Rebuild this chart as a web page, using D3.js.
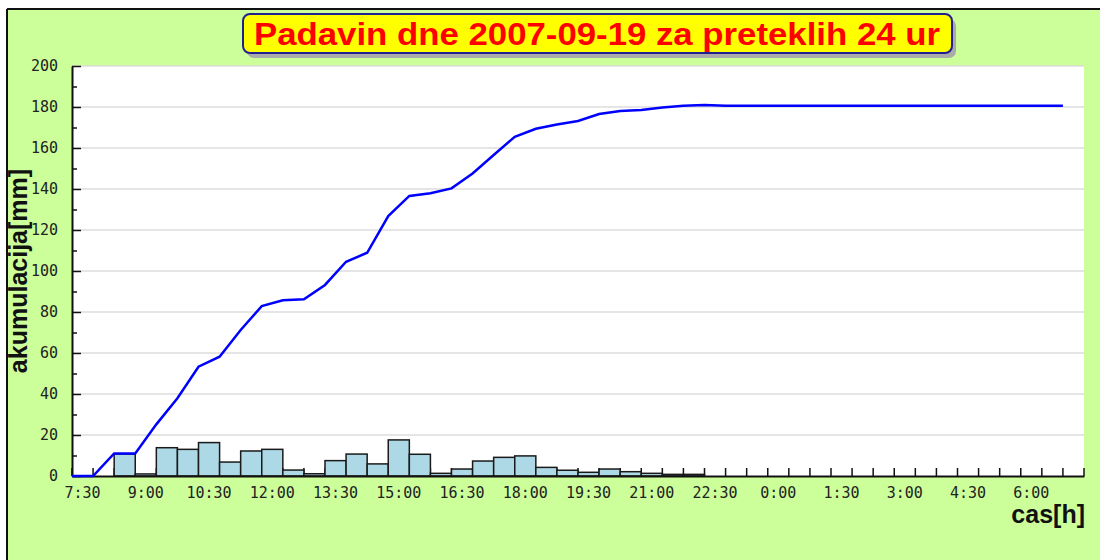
<!DOCTYPE html>
<html>
<head>
<meta charset="utf-8">
<script src="https://cdn.jsdelivr.net/npm/d3@7"></script>
<style>
  body { margin: 0; background: #fff; }
  svg { display: block; }
</style>
</head>
<body>
<svg id="chart" width="1100" height="560"></svg>
<script>
// data
const titleText = "Padavin dne 2007-09-19 za preteklih 24 ur";
const yLabel = "akumulacija[mm]";
const xLabel = "cas[h]";

// 30 minute slots, 7:30 -> 7:00 next day
const slots = ["7:30","8:00","8:30","9:00","9:30","10:00","10:30","11:00","11:30","12:00","12:30","13:00",
  "13:30","14:00","14:30","15:00","15:30","16:00","16:30","17:00","17:30","18:00","18:30","19:00",
  "19:30","20:00","20:30","21:00","21:30","22:00","22:30","23:00","23:30","0:00","0:30","1:00",
  "1:30","2:00","2:30","3:00","3:30","4:00","4:30","5:00","5:30","6:00","6:30","7:00"];
const xTickLabels = ["7:30","9:00","10:30","12:00","13:30","15:00","16:30","18:00","19:30","21:00",
  "22:30","0:00","1:30","3:00","4:30","6:00"];

// rain per half hour [mm]
const rain = [0,0,10.7,1,13.8,13,16.3,6.8,12.2,13,2.9,1.1,
  7.5,10.7,5.9,17.6,10.6,1.3,3.4,7.3,9.1,9.8,4.2,2.8,
  1.8,3.4,2.1,1.3,0.8,0.8,0,0,0,0,0,0,
  0,0,0,0,0,0,0,0,0,0,0,0];
// accumulated [mm]
const accum = [0,0,11,11,25.2,37.9,53.3,58.2,71.2,82.9,85.7,86.2,
  93.2,104.5,108.9,126.8,136.6,137.9,140.3,147.6,156.6,165.5,169.4,171.5,
  173.2,176.6,178,178.5,179.7,180.6,181,180.6,180.6,180.6,180.6,180.6,
  180.6,180.6,180.6,180.6,180.6,180.6,180.6,180.6,180.6,180.6,180.6,180.6];
const yMajor = [0,20,40,60,80,100,120,140,160,180,200];
const yMinor = [10,30,50,70,90,110,130,150,170,190];

const svg = d3.select("#chart");
const pLeft = 72, pRight = 1084, pTop = 66, pBottom = 476;

// background + frame
svg.append("rect").attr("x", 7).attr("y", 9).attr("width", 1100).attr("height", 560)
  .attr("fill", "#ccff99");
svg.append("line").attr("x1", 7).attr("x2", 1100).attr("y1", 9).attr("y2", 9)
  .attr("stroke", "#111").attr("stroke-width", 2);
svg.append("line").attr("x1", 7).attr("x2", 7).attr("y1", 9).attr("y2", 560)
  .attr("stroke", "#111").attr("stroke-width", 2);

// title
svg.append("rect").attr("x", 247).attr("y", 19).attr("width", 709).attr("height", 39).attr("rx", 7)
  .attr("fill", "#aaaaaa");
svg.append("rect").attr("x", 243).attr("y", 14).attr("width", 709).attr("height", 39).attr("rx", 7)
  .attr("fill", "#ffff00").attr("stroke", "#202090").attr("stroke-width", 2);
svg.append("text").attr("x", 597).attr("y", 45).attr("text-anchor", "middle")
  .attr("font-family", "Liberation Sans, Arial, sans-serif").attr("font-weight", "bold")
  .attr("font-size", 32).attr("fill", "#ff0000")
  .attr("textLength", 686).attr("lengthAdjust", "spacingAndGlyphs")
  .text(titleText);

// scales
const x = d3.scaleBand().domain(slots).range([pLeft, pRight]).padding(0);
const y = d3.scaleLinear().domain([0, 200]).range([pBottom, pTop]);

// plot area
svg.append("rect").attr("x", pLeft).attr("y", pTop).attr("width", pRight - pLeft).attr("height", pBottom - pTop)
  .attr("fill", "#fff");

// grid
svg.append("g").selectAll("line").data(yMajor.filter(d => d > 0)).join("line")
  .attr("x1", pLeft).attr("x2", pRight).attr("y1", d => y(d)).attr("y2", d => y(d))
  .attr("stroke", "#dcdcdc").attr("stroke-width", 1.5);

// x boundary ticks (pointing up)
svg.append("g").selectAll("line").data(slots.map(s => x(s)).concat([pRight])).join("line")
  .attr("x1", d => d).attr("x2", d => d).attr("y1", pBottom).attr("y2", pBottom - 8)
  .attr("stroke", "#111").attr("stroke-width", 1.5);

// bars
svg.append("g").selectAll("rect").data(slots.map((s, i) => ({ s, v: rain[i] })).filter(d => d.v > 0))
  .join("rect")
  .attr("x", d => x(d.s)).attr("width", x.bandwidth())
  .attr("y", d => y(d.v)).attr("height", d => pBottom - y(d.v))
  .attr("fill", "#add8e6").attr("stroke", "#1a1a1a").attr("stroke-width", 1.5);

// axes
const tickFont = "DejaVu Sans Mono, monospace";
const yAxis = svg.append("g").attr("transform", `translate(${pLeft},0)`)
  .call(d3.axisLeft(y).tickValues(yMajor).tickSizeInner(-9).tickSizeOuter(0).tickPadding(14));
yAxis.select(".domain").attr("stroke", "#111").attr("stroke-width", 2);
yAxis.selectAll(".tick line").attr("stroke", "#111").attr("stroke-width", 1.5);
yAxis.selectAll("text").attr("font-family", tickFont).attr("font-size", 15).attr("fill", "#222");

svg.append("g").attr("transform", `translate(${pLeft},0)`)
  .call(d3.axisLeft(y).tickValues(yMinor).tickSizeInner(-5).tickSizeOuter(0).tickFormat(""))
  .call(g => g.select(".domain").remove())
  .selectAll(".tick line").attr("stroke", "#111").attr("stroke-width", 1.5);

const xAxis = svg.append("g").attr("transform", `translate(0,${pBottom})`)
  .call(d3.axisBottom(x).tickValues(xTickLabels).tickSize(0).tickPadding(11));
xAxis.select(".domain").attr("stroke", "#111").attr("stroke-width", 2);
xAxis.selectAll("text").attr("font-family", tickFont).attr("font-size", 15).attr("fill", "#222");

// accumulation line (drawn over the axis)
const line = d3.line().x((d, i) => x(slots[i])).y(d => y(d));
svg.append("path").datum(accum).attr("d", line)
  .attr("fill", "none").attr("stroke", "#0000ff").attr("stroke-width", 2.5);

// axis titles
svg.append("text").attr("transform", `translate(27,${(pTop + pBottom) / 2}) rotate(-90)`)
  .attr("text-anchor", "middle")
  .attr("font-family", "Liberation Sans, Arial, sans-serif").attr("font-weight", "bold")
  .attr("font-size", 25).attr("fill", "#111")
  .text(yLabel);
svg.append("text").attr("x", 1085).attr("y", 523).attr("text-anchor", "end")
  .attr("font-family", "Liberation Sans, Arial, sans-serif").attr("font-weight", "bold")
  .attr("font-size", 25).attr("fill", "#111")
  .text(xLabel);
</script>
</body>
</html>
